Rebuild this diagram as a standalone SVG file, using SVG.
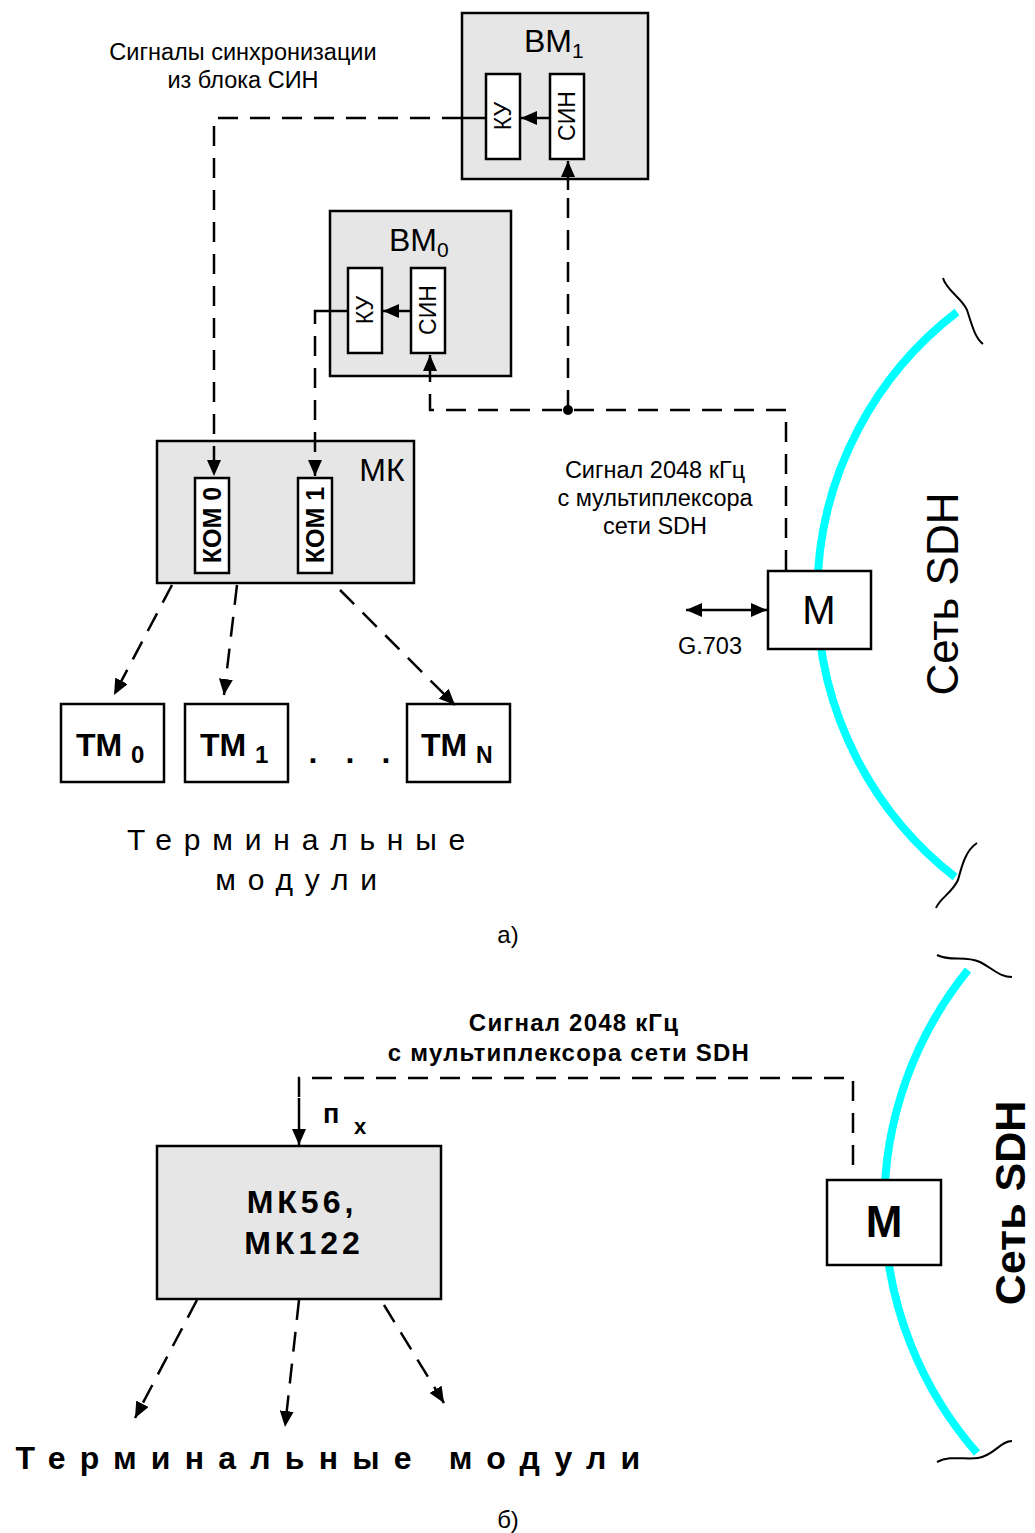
<svg xmlns="http://www.w3.org/2000/svg" width="1035" height="1533" viewBox="0 0 1035 1533">
<style>
text{font-family:"Liberation Sans",Arial,sans-serif;fill:#000}
.box{fill:#e6e6e6;stroke:#000;stroke-width:2.5}
.wbox{fill:#fff;stroke:#000;stroke-width:2.5}
.dash{fill:none;stroke:#000;stroke-width:2.5;stroke-dasharray:20 12}
.solid{fill:none;stroke:#000;stroke-width:2.5}
.net{fill:none;stroke:#00ffff;stroke-width:8}
.brk{fill:none;stroke:#000;stroke-width:2}
.b{font-weight:bold}
</style>
<defs>
<marker id="ah" markerUnits="userSpaceOnUse" markerWidth="18" markerHeight="14" refX="16" refY="7" orient="auto">
<path d="M0,0 L16,7 L0,14 Z" fill="#000"/>
</marker>
<marker id="ahs" markerUnits="userSpaceOnUse" markerWidth="18" markerHeight="14" refX="0" refY="7" orient="auto">
<path d="M16,0 L0,7 L16,14 Z" fill="#000"/>
</marker>
</defs>

<!-- network arcs -->
<g id="network">
<path class="net" d="M957,312 A357,357 0 0,0 955,877"/>
<path class="brk" d="M943,278 C946,290 962,298 967,310 C972,325 975,338 983,344"/>
<path class="brk" d="M977,843 C966,850 962,865 958,880 C952,893 940,898 936,908"/>
<text x="958" y="594" font-size="44" text-anchor="middle" transform="rotate(-90 958 594)">Сеть SDH</text>
<path class="net" d="M968,970 A375,375 0 0,0 977,1453"/>
<path class="brk" d="M937,955 C950,962 965,955 980,962 C995,970 1000,977 1012,977"/>
<path class="brk" d="M937,1462 C950,1455 965,1460 978,1458 C995,1455 1000,1441 1012,1441"/>
<text x="1025" y="1203" font-size="43" class="b" text-anchor="middle" transform="rotate(-90 1025 1203)">Сеть SDH</text>
</g>

<!-- top labels -->
<g id="labels-a">
<text x="243" y="60" font-size="23.5" text-anchor="middle">Сигналы синхронизации</text>
<text x="243" y="88" font-size="23.5" text-anchor="middle">из блока СИН</text>
<text x="655" y="478" font-size="23.5" text-anchor="middle">Сигнал 2048 кГц</text>
<text x="655" y="506" font-size="23.5" text-anchor="middle">с мультиплексора</text>
<text x="655" y="534" font-size="23.5" text-anchor="middle">сети SDH</text>
<text x="710" y="654" font-size="23.5" text-anchor="middle">G.703</text>
<text x="302" y="850" font-size="30" text-anchor="middle" letter-spacing="11.8">Терминальные</text>
<text x="302" y="890" font-size="30" text-anchor="middle" letter-spacing="11.8">модули</text>
<text x="508" y="943" font-size="24" text-anchor="middle">а)</text>
</g>

<g id="BM1">
<rect class="box" x="462" y="13" width="186" height="166"/>
<text x="524" y="52" font-size="32">BM<tspan font-size="21" dy="6">1</tspan></text>
<rect class="wbox" x="486" y="74" width="34" height="85"/>
<rect class="wbox" x="550" y="74" width="34" height="85"/>
<text x="511" y="116" font-size="23" text-anchor="middle" transform="rotate(-90 511 116)">КУ</text>
<text x="575" y="116" font-size="23" text-anchor="middle" transform="rotate(-90 575 116)">СИН</text>
</g>

<g id="BM0">
<rect class="box" x="330" y="211" width="181" height="165"/>
<text x="389" y="251" font-size="32">BM<tspan font-size="21" dy="6">0</tspan></text>
<rect class="wbox" x="348" y="268" width="34" height="85"/>
<rect class="wbox" x="411" y="268" width="34" height="85"/>
<text x="373" y="310" font-size="23" text-anchor="middle" transform="rotate(-90 373 310)">КУ</text>
<text x="436" y="310" font-size="23" text-anchor="middle" transform="rotate(-90 436 310)">СИН</text>
</g>

<g id="MK">
<rect class="box" x="157" y="441" width="257" height="142"/>
<text x="382" y="481" font-size="32" text-anchor="middle">МК</text>
<rect class="wbox" x="195" y="478" width="34" height="95"/>
<rect class="wbox" x="298" y="478" width="34" height="95"/>
<text x="221" y="525" font-size="25" class="b" text-anchor="middle" transform="rotate(-90 221 525)">КОМ 0</text>
<text x="324" y="525" font-size="25" class="b" text-anchor="middle" transform="rotate(-90 324 525)">КОМ 1</text>
</g>

<g id="M-top">
<rect class="wbox" x="768" y="571" width="103" height="78"/>
<text x="819" y="624" font-size="40" text-anchor="middle">М</text>
</g>

<g id="TM0">
<rect class="wbox" x="61" y="704" width="103" height="78"/>
<text x="76" y="756" font-size="32" class="b">ТМ <tspan font-size="24" dy="7">0</tspan></text>
</g>
<g id="TM1">
<rect class="wbox" x="185" y="704" width="103" height="78"/>
<text x="200" y="756" font-size="32" class="b">ТМ <tspan font-size="24" dy="7">1</tspan></text>
</g>
<g id="dots">
<text x="313" y="763" font-size="32" class="b" text-anchor="middle">.</text>
<text x="350" y="763" font-size="32" class="b" text-anchor="middle">.</text>
<text x="386" y="763" font-size="32" class="b" text-anchor="middle">.</text>
</g>
<g id="TMN">
<rect class="wbox" x="407" y="704" width="103" height="78"/>
<text x="421" y="756" font-size="32" class="b">ТМ <tspan font-size="23" dy="7">N</tspan></text>
</g>

<!-- part b -->
<g id="labels-b">
<text x="574" y="1031" font-size="24" class="b" text-anchor="middle" letter-spacing="1.2">Сигнал 2048 кГц</text>
<text x="569" y="1061" font-size="24" class="b" text-anchor="middle" letter-spacing="1.2">с мультиплексора сети SDH</text>
<text x="323" y="1123" font-size="27" class="b">п</text>
<text x="354" y="1134" font-size="22" class="b">x</text>
<text x="335" y="1469" font-size="32" class="b" text-anchor="middle" letter-spacing="14.2">Терминальные  модули</text>
<text x="508" y="1528" font-size="24" text-anchor="middle">б)</text>
</g>

<g id="MK56">
<rect class="box" x="157" y="1146" width="284" height="153"/>
<text x="302" y="1213" font-size="32" class="b" text-anchor="middle" letter-spacing="4">МК56,</text>
<text x="304" y="1254" font-size="32" class="b" text-anchor="middle" letter-spacing="4">МК122</text>
</g>

<g id="M-bottom">
<rect class="wbox" x="827" y="1180" width="114" height="85"/>
<text x="884" y="1237" font-size="44" class="b" text-anchor="middle">М</text>
</g>

<!-- connectors -->
<g id="connectors">
<path class="dash" d="M462,118 H214 V476" marker-end="url(#ah)"/>
<path class="solid" d="M462,118 H486"/>
<path class="solid" d="M550,118 H521" marker-end="url(#ah)"/>
<path class="dash" d="M322,311 H315 V476" marker-end="url(#ah)"/>
<path class="solid" d="M322,311 H348"/>
<path class="solid" d="M411,311 H383" marker-end="url(#ah)"/>
<path class="dash" d="M568,410 V190"/>
<path class="solid" d="M568,190 V161" marker-end="url(#ah)"/>
<path class="dash" d="M786,570 V410 H430 V380"/>
<path class="solid" d="M430,380 V355" marker-end="url(#ah)"/>
<circle cx="568" cy="410" r="5" fill="#000"/>
<path class="solid" d="M686,610 H767" marker-start="url(#ahs)" marker-end="url(#ah)"/>
<path class="dash" d="M172,585 L114,695" marker-end="url(#ah)"/>
<path class="dash" d="M237,585 L224,695" marker-end="url(#ah)"/>
<path class="dash" d="M340,590 L455,705" marker-end="url(#ah)"/>
<path class="dash" d="M853,1165 V1078 H299 V1100"/>
<path class="solid" d="M299,1098 V1145" marker-end="url(#ah)"/>
<path class="dash" d="M197,1300 L135,1418" marker-end="url(#ah)"/>
<path class="dash" d="M299,1300 L285,1427" marker-end="url(#ah)"/>
<path class="dash" d="M384,1305 L444,1403" marker-end="url(#ah)"/>
</g>
</svg>
